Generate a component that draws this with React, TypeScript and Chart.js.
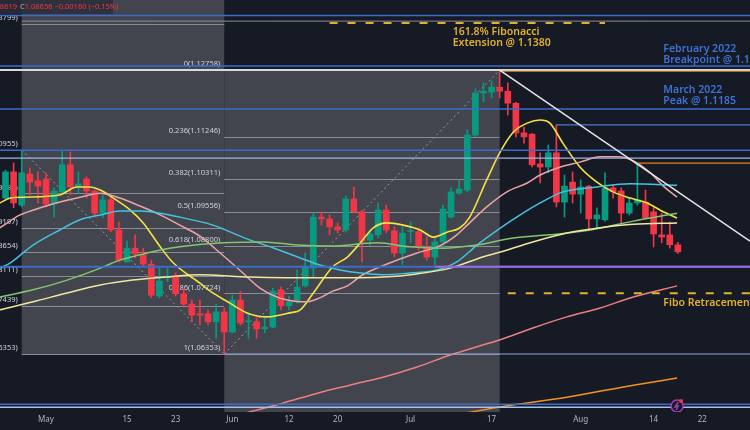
import React, { useEffect, useRef } from "react";
import { Chart, registerables } from "chart.js";
Chart.register(...registerables);

// ---------- data ----------
const FIRST_INDEX = -5; // trading-day index of first candle (May 1 = 0)
const opens = [1.0987, 1.1046, 1.0971, 1.1041, 1.1026, 1.1030, 1.0974, 1.1001, 1.1062, 1.1012, 1.1030, 1.1003, 1.0953, 1.0983, 1.0915, 1.0843, 1.0874, 1.0859, 1.0838, 1.0766, 1.0807, 1.0811, 1.0771, 1.0748, 1.0726, 1.0726, 1.0708, 1.0730, 1.0685, 1.0757, 1.0708, 1.0708, 1.0692, 1.0696, 1.0780, 1.0744, 1.0753, 1.0789, 1.0829, 1.0944, 1.0940, 1.0922, 1.0915, 1.0985, 1.0956, 1.0892, 1.0904, 1.0960, 1.0913, 1.0863, 1.0911, 1.0911, 1.0877, 1.0854, 1.0888, 1.0944, 1.0998, 1.1005, 1.1129, 1.1224, 1.1226, 1.1237, 1.1228, 1.1201, 1.1134, 1.1131, 1.1064, 1.1057, 1.1089, 1.0978, 1.1023, 1.0996, 1.1014, 1.0940, 1.0938, 1.1010, 1.1003, 1.0953, 1.0976, 1.0978, 1.0956, 1.0904, 1.0904, 1.08816];
const highs = [1.1050, 1.1066, 1.1095, 1.1055, 1.1046, 1.1044, 1.1010, 1.1095, 1.1091, 1.1046, 1.1035, 1.1005, 1.0994, 1.0987, 1.0933, 1.0890, 1.0904, 1.0874, 1.0847, 1.0829, 1.0829, 1.0818, 1.0784, 1.0757, 1.0757, 1.0735, 1.0748, 1.0739, 1.0768, 1.0777, 1.0728, 1.0717, 1.0719, 1.0784, 1.0786, 1.0766, 1.0825, 1.0863, 1.0953, 1.0956, 1.0949, 1.0931, 1.0992, 1.1012, 1.0960, 1.0915, 1.0976, 1.0971, 1.0922, 1.0922, 1.0933, 1.0919, 1.0899, 1.0899, 1.0971, 1.1010, 1.1028, 1.1141, 1.1233, 1.1247, 1.1251, 1.1276, 1.1247, 1.1203, 1.1147, 1.1133, 1.1089, 1.1107, 1.1152, 1.1039, 1.1046, 1.1028, 1.1016, 1.0965, 1.1044, 1.1016, 1.1010, 1.0987, 1.1066, 1.1005, 1.0967, 1.0953, 1.0933, 1.08870];
const lows = [1.0983, 1.0965, 1.0967, 1.0994, 1.0976, 1.0967, 1.0944, 1.0994, 1.0994, 1.0998, 1.0987, 1.0944, 1.0942, 1.0911, 1.0843, 1.0843, 1.0852, 1.0832, 1.0762, 1.0762, 1.0798, 1.0766, 1.0741, 1.0708, 1.0701, 1.0701, 1.0671, 1.0635, 1.0683, 1.0701, 1.0671, 1.0671, 1.0683, 1.0694, 1.0735, 1.0735, 1.0750, 1.0786, 1.0809, 1.0926, 1.0904, 1.0908, 1.0910, 1.0953, 1.0843, 1.0881, 1.0897, 1.0908, 1.0854, 1.0836, 1.0886, 1.0870, 1.0847, 1.0836, 1.0874, 1.0942, 1.0996, 1.1001, 1.1125, 1.1204, 1.1213, 1.1213, 1.1174, 1.1125, 1.1111, 1.1057, 1.1021, 1.1044, 1.0967, 1.0944, 1.0976, 1.0953, 1.0917, 1.0920, 1.0935, 1.0987, 1.0931, 1.0949, 1.0971, 1.0940, 1.0877, 1.0886, 1.0874, 1.08619];
const closes = [1.1046, 1.0976, 1.1044, 1.1023, 1.1014, 1.0974, 1.1003, 1.1062, 1.1012, 1.1019, 1.1003, 1.0953, 1.0983, 1.0915, 1.0847, 1.0874, 1.0861, 1.0838, 1.0768, 1.0800, 1.0811, 1.0771, 1.0748, 1.0723, 1.0723, 1.0708, 1.0730, 1.0685, 1.0757, 1.0705, 1.0710, 1.0692, 1.0696, 1.0777, 1.0744, 1.0753, 1.0786, 1.0832, 1.0944, 1.0940, 1.0922, 1.0915, 1.0985, 1.0956, 1.0890, 1.0906, 1.0960, 1.0915, 1.0863, 1.0908, 1.0913, 1.0877, 1.0854, 1.0888, 1.0962, 1.1001, 1.1007, 1.1129, 1.1224, 1.1228, 1.1237, 1.1228, 1.1201, 1.1134, 1.1125, 1.1062, 1.1057, 1.1089, 1.0978, 1.1014, 1.0996, 1.1012, 1.0940, 1.0949, 1.1010, 1.1001, 1.0953, 1.0976, 1.0983, 1.0942, 1.0906, 1.0899, 1.08816, 1.08656];

const tickIndex = [0, 10, 16, 23, 30, 36, 45, 55, 66, 75, 81];
const tickLabels = ["May", "15", "23", "Jun", "12", "20", "Jul", "17", "Aug", "14", "22"];

const X_MIN = -5.68;
const X_MAX = 86.9;
const Y_MIN = 1.05045;
const Y_MAX = 1.14337;

// moving averages (index, price)
const fastX = [-5.7, -4.4, -2.8, 1.7, 3.8, 5.4, 6.7, 8.3, 10.4, 12.0, 14.1, 15.7, 19.0, 20.6, 22.7, 24.8, 27.3, 30.1, 31.4, 33.0, 35.4, 37.2, 38.8, 40.4, 42.1, 44.1, 46.2, 47.8, 49.5, 51.1, 52.3, 54.4, 56.0, 57.7, 59.4, 61.0, 62.2, 63.8, 65.9, 68.0, 70.0, 72.1, 74.2, 76.2, 77.9];
const fastY = [1.0976, 1.0987, 1.0989, 1.0994, 1.1012, 1.1012, 1.1005, 1.0987, 1.0960, 1.0931, 1.0877, 1.0841, 1.0795, 1.0773, 1.0750, 1.0728, 1.0719, 1.0728, 1.0735, 1.0773, 1.0832, 1.0854, 1.0886, 1.0920, 1.0931, 1.0926, 1.0915, 1.0899, 1.0910, 1.0920, 1.0944, 1.1028, 1.1089, 1.1136, 1.1156, 1.1163, 1.1156, 1.1111, 1.1057, 1.1023, 1.1001, 1.0987, 1.0976, 1.0956, 1.0942];
const pinkX = [-5.7, -3.2, -0.7, 1.7, 4.2, 6.7, 9.1, 11.6, 14.1, 16.5, 19.0, 21.5, 24.0, 26.4, 28.5, 30.5, 32.2, 33.8, 35.4, 37.2, 39.1, 42.5, 45.8, 48.3, 49.5, 50.7, 52.0, 54.4, 56.9, 59.4, 61.0, 63.5, 65.9, 68.4, 70.5, 72.5, 74.6, 76.2, 77.9];
const pinkY = [1.0920, 1.0949, 1.0965, 1.0978, 1.0989, 1.0998, 1.0987, 1.0969, 1.0949, 1.0926, 1.0901, 1.0863, 1.0823, 1.0784, 1.0764, 1.0755, 1.0753, 1.0762, 1.0777, 1.0789, 1.0814, 1.0841, 1.0863, 1.0877, 1.0888, 1.0904, 1.0926, 1.0967, 1.1001, 1.1021, 1.1039, 1.1057, 1.1068, 1.1080, 1.1080, 1.1071, 1.1044, 1.1014, 1.0989];
const cyanX = [-5.7, -4.4, -1.6, 1.7, 4.2, 6.7, 9.1, 11.6, 14.1, 16.5, 20.6, 24.8, 28.0, 31.4, 33.8, 36.3, 38.8, 41.6, 44.9, 48.3, 50.7, 53.2, 55.2, 58.1, 61.0, 63.8, 68.0, 72.1, 77.9];
const cyanY = [1.0829, 1.0841, 1.0881, 1.0915, 1.0938, 1.0949, 1.0958, 1.0958, 1.0953, 1.0944, 1.0926, 1.0895, 1.0875, 1.0852, 1.0836, 1.0825, 1.0818, 1.0814, 1.0818, 1.0825, 1.0843, 1.0881, 1.0908, 1.0944, 1.0976, 1.1001, 1.1012, 1.1019, 1.1016];
const greenX = [-5.7, -1.6, 2.6, 6.7, 9.1, 11.6, 14.1, 16.5, 21.9, 26.8, 31.0, 35.1, 40.9, 44.9, 49.0, 53.2, 57.7, 62.2, 67.2, 72.5, 77.9];
const greenY = [1.0764, 1.0780, 1.0802, 1.0829, 1.0847, 1.0859, 1.0870, 1.0877, 1.0886, 1.0888, 1.0881, 1.0879, 1.0886, 1.0877, 1.0874, 1.0881, 1.0897, 1.0904, 1.0915, 1.0935, 1.0953];
const paleX = [-5.7, -1.6, 2.6, 6.7, 10.7, 14.9, 19.0, 25.2, 35.1, 41.6, 45.8, 49.9, 53.9, 56.0, 60.1, 64.3, 68.4, 72.5, 77.9];
const paleY = [1.0735, 1.0753, 1.0773, 1.0791, 1.0802, 1.0809, 1.0814, 1.0809, 1.0807, 1.0809, 1.0816, 1.0829, 1.0854, 1.0865, 1.0888, 1.0908, 1.0920, 1.0928, 1.0931];
const salmonX = [21.5, 25.2, 29.3, 33.5, 37.5, 41.6, 45.8, 49.9, 54.0, 56.0, 60.1, 64.3, 68.4, 72.5, 77.9];
const salmonY = [1.0487, 1.0505, 1.0525, 1.0547, 1.0565, 1.0583, 1.0606, 1.0633, 1.0656, 1.0667, 1.0694, 1.0719, 1.0739, 1.0764, 1.0789];
const orangeX = [48.6, 56.0, 64.3, 72.5, 77.9];
const orangeY = [1.0491, 1.0516, 1.0538, 1.0565, 1.0581];

// Fibonacci retracements
const fibAFrom = -3;
const fibATo = 22;
const fibAPrices = [1.13799, 1.10955, 1.0998, 1.09197, 1.08654, 1.08111, 1.07439, 1.06353];
const fibALabels = ["-0.618(1.13799)", "0(1.10955)", "0.212(1.09980)", "0.382(1.09197)", "0.5(1.08654)", "0.618(1.08111)", "0.764(1.07439)", "1(1.06353)"];
const fibBFrom = 22;
const fibBTo = 56;
const fibBPrices = [1.12758, 1.11246, 1.10311, 1.09556, 1.088, 1.07724, 1.06353];
const fibBLabels = ["0(1.12758)", "0.236(1.11246)", "0.382(1.10311)", "0.5(1.09556)", "0.618(1.08800)", "0.786(1.07724)", "1(1.06353)"];

// swing points (dotted) and trendline
const swingIdx = [-3, 22, 56];
const swingPrice = [1.10955, 1.06353, 1.12758];
const trendIdx = [56, 86.9];
const trendPrice = [1.12758, 1.089];

// horizontal levels
const levelPrice = [1.1399, 1.1386, 1.1285, 1.12758, 1.1273, 1.1188, 1.1152, 1.1095, 1.1077, 1.1066, 1.0832, 1.0832, 1.06353, 1.0522, 1.0515];
const levelFrom = [X_MIN, -3, X_MIN, X_MIN, 56, X_MIN, 63, X_MIN, X_MIN, 73, X_MIN, 48, 22, X_MIN, X_MIN];
const extensionLevel = 1.1382;
const extensionFrom = 35;
const extensionTo = 69;
const retraceLevel = 1.07724;
const retraceFrom = 57;

// annotations
const noteText = ["161.8% Fibonacci", "Extension @ 1.1380", "February 2022", "Breakpoint @ 1.1280", "March 2022", "Peak @ 1.1185", "Fibo Retracement"];
const noteIdx = [50.2, 50.2, 76.2, 76.2, 76.2, 76.2, 76.2];
const notePrice = [1.1361, 1.1337, 1.1323, 1.1298, 1.1231, 1.1206, 1.0750];

// ---------- styles ----------
const BG = "#161a25";
const BOX = "#42454e";
const UP = "#089981";
const DOWN = "#f23645";
const GOLD = "#e2b12c";
const BLUE_TXT = "#3d72d3";
const FONT = "'Noto Sans', 'DejaVu Sans', sans-serif";
const levelStyle = [
  { c: "#3d6bc8", w: 1.5 },
  { c: "#8a8d96", w: 1 },
  { c: "#3d6bc8", w: 1.5 },
  { c: "#d8d9de", w: 2 },
  { c: "#e08a2a", w: 1.2 },
  { c: "#3d6bc8", w: 1.5 },
  { c: "#4d7bd0", w: 1.2 },
  { c: "#3d6bc8", w: 1.5 },
  { c: "#9fb4e2", w: 1.2 },
  { c: "#e07f1f", w: 1.2 },
  { c: "#3d6bc8", w: 2 },
  { c: "#9a6ae0", w: 2 },
  { c: "#8ea6d8", w: 1.2 },
  { c: "#3d6bc8", w: 1.5 },
  { c: "#a9c0ea", w: 1.5 },
];
const noteColor = [GOLD, GOLD, BLUE_TXT, BLUE_TXT, BLUE_TXT, BLUE_TXT, GOLD];

function line(ctx: CanvasRenderingContext2D, x1: number, y1: number, x2: number, y2: number, color: string, width: number, dash: number[] = []) {
  ctx.save();
  ctx.strokeStyle = color;
  ctx.lineWidth = width;
  ctx.setLineDash(dash);
  ctx.beginPath();
  ctx.moveTo(x1, y1);
  ctx.lineTo(x2, y2);
  ctx.stroke();
  ctx.restore();
}

const overlay = {
  id: "overlay",
  beforeDraw(chart: any) {
    const { ctx, width, height, chartArea: a } = chart;
    const X = (v: number) => chart.scales.x.getPixelForValue(v);
    const Y = (v: number) => chart.scales.y.getPixelForValue(v);
    ctx.save();
    ctx.fillStyle = BG;
    ctx.fillRect(0, 0, width, height);
    ctx.fillStyle = BOX;
    const yA = Y(fibAPrices[fibAPrices.length - 1]);
    ctx.fillRect(X(fibAFrom), a.top, X(fibATo) - X(fibAFrom), yA - a.top);
    const yB = Y(fibBPrices[0]);
    ctx.fillRect(X(fibBFrom), yB, X(fibBTo) - X(fibBFrom), a.bottom - yB);
    ctx.restore();
  },
  beforeDatasetsDraw(chart: any) {
    const { ctx, chartArea: a } = chart;
    const X = (v: number) => chart.scales.x.getPixelForValue(v);
    const Y = (v: number) => chart.scales.y.getPixelForValue(v);
    ctx.save();
    ctx.beginPath();
    ctx.rect(a.left, a.top, a.right - a.left, a.bottom - a.top);
    ctx.clip();
    fibAPrices.forEach((p) => {
      const y = Math.round(Y(p)) + 0.5;
      line(ctx, X(fibAFrom), y, X(fibATo), y, "#8a8d96", 1.2);
    });
    fibBPrices.forEach((p) => {
      const y = Math.round(Y(p)) + 0.5;
      line(ctx, X(fibBFrom), y, X(fibBTo), y, "#8a8d96", 1.2);
    });
    ctx.font = `7.5px ${FONT}`;
    ctx.fillStyle = "#d1d4dc";
    ctx.textAlign = "right";
    ctx.textBaseline = "bottom";
    fibALabels.forEach((t, i) => ctx.fillText(t, X(fibAFrom) - 4, Y(fibAPrices[i]) - 2));
    fibBLabels.forEach((t, i) => ctx.fillText(t, X(fibBFrom) - 4, Y(fibBPrices[i]) - 2));
    for (let i = 0; i < swingIdx.length - 1; i++) {
      line(ctx, X(swingIdx[i]), Y(swingPrice[i]), X(swingIdx[i + 1]), Y(swingPrice[i + 1]), "#9a9da6", 1, [2, 3]);
    }
    ctx.restore();
  },
  afterDatasetsDraw(chart: any) {
    const { ctx, chartArea: a } = chart;
    const X = (v: number) => chart.scales.x.getPixelForValue(v);
    const Y = (v: number) => chart.scales.y.getPixelForValue(v);
    ctx.save();
    ctx.beginPath();
    ctx.rect(a.left, a.top, a.right - a.left, a.bottom - a.top);
    ctx.clip();
    levelPrice.forEach((p, i) => {
      const y = Y(p);
      line(ctx, X(levelFrom[i]), y, X(X_MAX), y, levelStyle[i].c, levelStyle[i].w);
    });
    line(ctx, X(extensionFrom), Y(extensionLevel), X(extensionTo), Y(extensionLevel), GOLD, 2, [8, 10]);
    line(ctx, X(retraceFrom), Y(retraceLevel), X(X_MAX), Y(retraceLevel), GOLD, 2, [8, 10]);
    line(ctx, X(trendIdx[0]), Y(trendPrice[0]), X(trendIdx[1]), Y(trendPrice[1]), "#e6e6ea", 1.5);

    // annotations
    ctx.font = `600 10.5px ${FONT}`;
    ctx.textAlign = "left";
    ctx.textBaseline = "middle";
    noteText.forEach((t, i) => {
      ctx.fillStyle = noteColor[i];
      ctx.fillText(t, X(noteIdx[i]), Y(notePrice[i]));
    });

    // alert icon
    const ix = X(orangeX[orangeX.length - 1]);
    const iy = Y(1.0518);
    ctx.beginPath();
    ctx.arc(ix, iy, 6, 0, Math.PI * 2);
    ctx.fillStyle = BG;
    ctx.fill();
    ctx.strokeStyle = "#9c3fb8";
    ctx.lineWidth = 1.5;
    ctx.stroke();
    ctx.beginPath();
    ctx.moveTo(ix + 1, iy - 4);
    ctx.lineTo(ix - 2, iy + 1);
    ctx.lineTo(ix + 1, iy);
    ctx.lineTo(ix - 1, iy + 4);
    ctx.stroke();
    ctx.beginPath();
    ctx.arc(ix + 4, iy - 5, 2, 0, Math.PI * 2);
    ctx.fillStyle = "#f23645";
    ctx.fill();
    ctx.restore();

    // OHLC legend
    const n = closes.length;
    const chg = closes[n - 1] - closes[n - 2];
    const pct = (chg / closes[n - 2]) * 100;
    ctx.save();
    ctx.fillStyle = "rgba(42,46,57,0.85)";
    ctx.fillRect(0, 0, 113, 14);
    ctx.font = `7.5px ${FONT}`;
    ctx.textBaseline = "middle";
    ctx.textAlign = "right";
    ctx.fillStyle = DOWN;
    ctx.fillText("L" + lows[n - 1].toFixed(5), 17, 7);
    ctx.textAlign = "left";
    let x = 20;
    ctx.fillStyle = "#b2b5be";
    ctx.fillText("C", x, 7);
    x += ctx.measureText("C").width;
    ctx.fillStyle = DOWN;
    const rest = `${closes[n - 1].toFixed(5)} \u2212${Math.abs(chg).toFixed(5)} (\u2212${Math.abs(pct).toFixed(2)}%)`;
    ctx.fillText(rest, x, 7);
    ctx.restore();
  },
};

export default function App() {
  const ref = useRef<HTMLCanvasElement | null>(null);
  useEffect(() => {
    if (!ref.current) return;
    const xs = opens.map((_, i) => FIRST_INDEX + i);
    const colors = opens.map((o, i) => (closes[i] >= o ? UP : DOWN));
    const ma = (xv: number[], yv: number[], color: string, w: number) => ({
      type: "line" as const,
      data: xv.map((x, i) => ({ x, y: yv[i] })),
      borderColor: color,
      borderWidth: w,
      pointRadius: 0,
      cubicInterpolationMode: "monotone" as const,
      order: 1,
    });
    const chart = new Chart(ref.current, {
      type: "bar",
      data: {
        datasets: [
          {
            type: "bar",
            data: xs.map((x, i) => ({ x, y: [lows[i], highs[i]] })) as any,
            backgroundColor: colors,
            barThickness: 1,
            grouped: false,
            order: 3,
          } as any,
          {
            type: "bar",
            data: xs.map((x, i) => ({ x, y: [opens[i], closes[i]] })) as any,
            backgroundColor: colors,
            barThickness: 6,
            minBarLength: 1,
            grouped: false,
            order: 2,
          } as any,
          ma(orangeX, orangeY, "#f6921e", 1.5),
          ma(salmonX, salmonY, "#ee7f80", 1.5),
          ma(paleX, paleY, "#f1e8a0", 1.5),
          ma(greenX, greenY, "#84c56f", 1.5),
          ma(cyanX, cyanY, "#43c5df", 1.5),
          ma(pinkX, pinkY, "#eca4a6", 1.5),
          ma(fastX, fastY, "#f5e243", 1.6),
        ],
      },
      options: {
        animation: false,
        responsive: false,
        events: [],
        layout: { padding: 0 },
        plugins: { legend: { display: false }, tooltip: { enabled: false } },
        scales: {
          x: {
            type: "linear",
            min: X_MIN,
            max: X_MAX,
            offset: false,
            grid: { display: false, drawTicks: false },
            border: { display: false },
            afterBuildTicks: (s: any) => {
              s.ticks = tickIndex.map((v) => ({ value: v }));
            },
            afterFit: (s: any) => {
              s.height = 18;
            },
            ticks: {
              autoSkip: false,
              maxRotation: 0,
              padding: 3,
              color: "#b2b5be",
              font: { size: 8, family: FONT },
              callback: (_v: any, i: number) => tickLabels[i] ?? "",
            },
          },
          y: {
            type: "linear",
            display: false,
            min: Y_MIN,
            max: Y_MAX,
            beginAtZero: false,
          },
        },
      } as any,
      plugins: [overlay],
    });
    return () => chart.destroy();
  }, []);
  return (
    <div style={{ position: "fixed", left: 0, top: 0, width: 750, height: 430, background: BG }}>
      <canvas ref={ref} width={750} height={430} style={{ display: "block", width: 750, height: 430 }} />
    </div>
  );
}
